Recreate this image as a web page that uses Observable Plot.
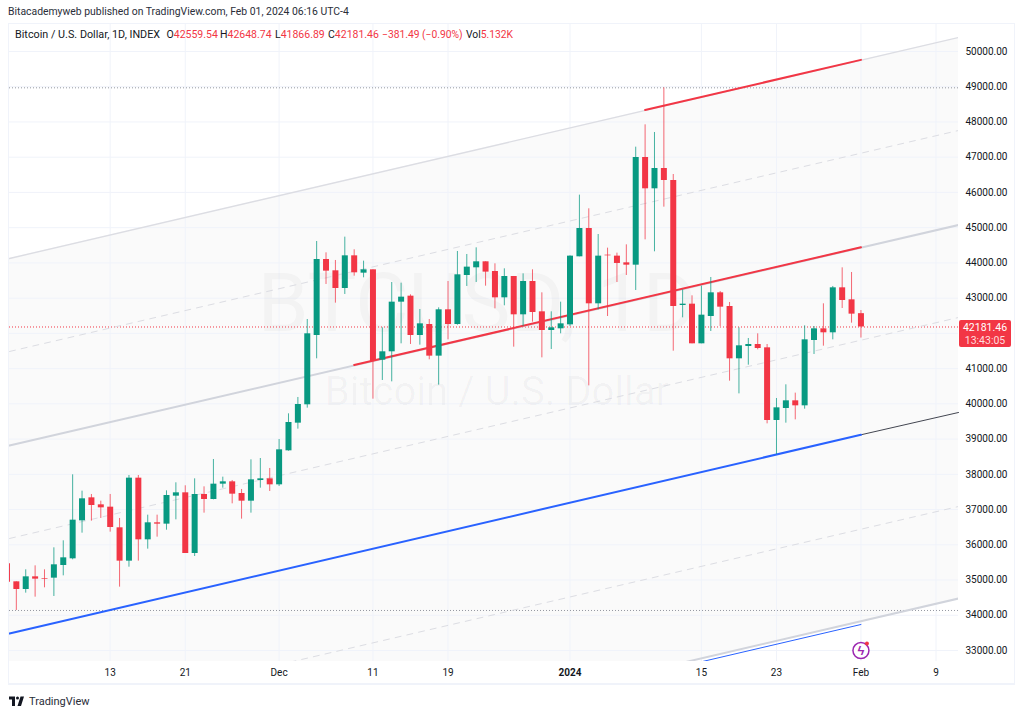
<!DOCTYPE html>
<html><head><meta charset="utf-8">
<script src="https://cdn.jsdelivr.net/npm/d3@7"></script>
<script src="https://cdn.jsdelivr.net/npm/@observablehq/plot@0.6"></script>
<style>
html,body{margin:0;padding:0;background:#fff;width:1024px;height:716px;overflow:hidden;font-family:Roboto,"Liberation Sans",sans-serif;color:#131722}
#title{height:23px;line-height:24px;padding-left:8px;font-size:10.4px;color:#2a2e39;white-space:nowrap}
#chart{position:relative;width:1024px;height:663px}
#chart svg{display:block}
#box{position:absolute;left:8px;top:0;width:1007px;height:662px;border:1px solid #f0f3fa;border-bottom-width:2px;pointer-events:none;box-sizing:border-box}
.lg{position:absolute;top:6px;font-size:10.5px;line-height:12px;white-space:nowrap;color:#131722}
.lg b{font-weight:400;color:#f23645}
#tag{position:absolute;left:959px;width:52px;height:27px;background:#f23645;border-radius:2px;color:#fff;font-size:10.5px;line-height:13px;text-align:center;box-sizing:border-box;padding-top:1px}
#tag span{display:block;color:#fdd}
#foot{height:30px;display:flex;align-items:center;padding-left:8px;gap:3px;font-size:11px;color:#2a2e39}
</style></head><body>
<div id="title">Bitacademyweb published on TradingView.com, Feb 01, 2024 06:16 UTC-4</div>
<div id="chart"></div>
<div id="foot"><svg width="18" height="12" viewBox="0 0 36 24"><path fill="#131722" d="M14 3H2v6h6v13h6V3zm12 19h-7l6-19h7l-6 19zm-7-13a3 3 0 1 0 0-6 3 3 0 0 0 0 6z"/></svg><span>TradingView</span></div>
<script>
const startDay = Date.UTC(2023, 10, 2);
const opens = [35460,34949,34732,35091,35044,35053,35413,35602,36680,37333,37134,37068,36482,35536,37891,36141,36624,36586,37380,37475,35753,37428,37286,37721,37787,37456,37238,37825,37872,37702,38667,39452,39973,41940,44097,43776,43274,44201,43709,43804,41240,41477,42886,43056,41940,42252,41354,42669,42252,43643,43861,44031,43757,43009,43615,42527,43473,42612,42082,42130,42243,44173,44977,42839,44220,44192,44002,43936,46992,46103,46680,46339,42791,42829,41704,42479,43151,42763,41278,41628,41684,41590,39528,39868,40086,39944,41798,42129,42016,43293,42952,42559.54];
const highs = [35500,34950,35290,35403,35290,35914,36113,37986,37522,37428,37238,37428,36747,37967,37967,36841,36841,37532,37759,37674,37872,37645,38421,37920,37825,37570,38411,38449,38166,38989,39717,40181,42394,44608,44286,44069,44731,44372,44050,43804,42158,43444,43425,43094,42678,42394,42725,43473,44324,44239,44428,44031,43974,43832,43615,43690,43804,43151,42612,42886,44200,45923,45535,44806,44419,44277,44513,47285,47919,47701,48969,46509,43236,43066,43340,43586,43189,42877,42158,41855,41987,41684,40152,40540,40304,42214,42195,42839,43331,43860,43728,42648.74];
const lows = [34920,34136,34628,34514,34779,34533,35119,35574,36330,36671,36747,36359,34798,35365,35536,35876,36217,36415,36709,35753,35668,36898,37276,37607,37163,36728,36898,37607,37513,37655,38657,39282,39878,41278,43388,42858,43104,43624,43577,40133,40663,40625,41704,41685,41666,41250,40531,41817,42233,43331,43444,43340,42697,42782,41609,42196,42319,41306,41543,41988,42196,44173,40510,42668,42479,43444,43643,43217,44655,44315,45582,41495,42441,41704,41704,42053,42195,40644,40284,41098,41533,39433,38563,39452,39546,39849,41401,41637,41817,42706,42290,41866.89];
const closes = [34940,34732,35091,35025,35025,35432,35630,36699,37305,37115,37049,36491,35536,37891,36141,36624,36586,37399,37475,35753,37428,37286,37721,37787,37437,37238,37844,37872,37702,38695,39471,39982,41988,44097,43766,43274,44201,43719,43804,41202,41477,42886,43028,41940,42271,41354,42669,42252,43662,43880,44031,43738,43009,43615,42527,43473,42593,42082,42158,42271,44192,44977,42839,44192,44201,43984,43936,46992,46103,46680,46339,42763,42829,41704,42517,43151,42744,41278,41647,41684,41571,39528,39887,40086,39944,41817,42129,42016,43293,42933,42546,42181.46];

// Channel levels, price at chart left edge and right edge
const edgeStart = new Date(Date.UTC(2023, 10, 2, 6, 30));
const edgeEnd = new Date(Date.UTC(2024, 1, 11, 9, 30));
const lastBar = new Date(Date.UTC(2024, 1, 1));
const levelTop = [44126, 50397];
const levelUpperDash = [41486, 47758];
const levelMid = [38818, 45076];
const levelLowerDash = [36179, 42451];
const levelBase = [33483, 39755];
const levelBelowDash = [30815, 37087];
const levelFloor = [28204, 34476];

const priceTicks = [33000,34000,35000,36000,37000,38000,39000,40000,41000,42000,43000,44000,45000,46000,47000,48000,49000,50000];
const priceLabels = priceTicks.filter(p => p !== 42000); // 42000.00 sits under the last-price tag
const tickDates = [[2023,10,13],[2023,10,21],[2023,11,1],[2023,11,11],[2023,11,19],[2024,0,15],[2024,0,23],[2024,1,1],[2024,1,9]].map(a => new Date(Date.UTC(...a)));
const tickNames = ["13","21","Dec","11","19","15","23","Feb","9"];
const yearTick = [new Date(Date.UTC(2024,0,1))];
const highLine = 48969, lowLine = 34136, lastPrice = 42181.46;

const up = "#089981", down = "#f23645", blue = "#2962ff", gray = "#d1d4dc", lightGray = "#dcdde3";
const bars = opens.map((o,i) => ({date:new Date(startDay + i*864e5), o, h:highs[i], l:lows[i], c:closes[i], col: closes[i] >= o ? up : down}));
const seg = (lv) => [{d:edgeStart,p:lv[0]},{d:edgeEnd,p:lv[1]}];
const fillBand = [{d:edgeStart,a:levelTop[0],b:levelFloor[0]},{d:edgeEnd,a:levelTop[1],b:levelFloor[1]}];
const line = (lv,o) => Plot.line(seg(lv),{x:"d",y:"p",clip:"frame",...o});

const redTop = [{d:new Date(Date.UTC(2024,0,9)),p:48337},{d:lastBar,p:49762}];
const redMid = [{d:new Date(Date.UTC(2023,11,9)),p:41100},{d:lastBar,p:44443}];
const blueMain = [{d:edgeStart,p:33483},{d:lastBar,p:39122}];
const blackTail = [{d:lastBar,p:39122},{d:edgeEnd,p:39755}];
const blueLow = [{d:new Date(Date.UTC(2024,0,15)),p:32680},{d:lastBar,p:33738}];

const font = "Roboto, 'Liberation Sans', sans-serif";
const plot = Plot.plot({
  width:1024, height:663, marginLeft:9, marginRight:66, marginTop:1, marginBottom:25,
  style:{background:"transparent", fontFamily:font, overflow:"visible"},
  x:{type:"utc", domain:[edgeStart,edgeEnd]},
  y:{domain:[32688,50766]},
  marks:[
    Plot.areaY(fillBand,{x:"d",y1:"a",y2:"b",fill:"#fafafa",clip:"frame"}),
    Plot.gridX([...tickDates,...yearTick],{stroke:"#f0f3fa",strokeOpacity:1}),
    Plot.gridY(priceTicks,{stroke:"#f0f3fa",strokeOpacity:1}),
    Plot.text(["BTCUSD, 1D"],{x:()=>new Date(Date.UTC(2023,11,22,2)),y:()=>42820,fontSize:82,fill:"#131722",fillOpacity:0.03}),
    Plot.text(["Bitcoin / U.S. Dollar"],{x:()=>new Date(Date.UTC(2023,11,24,5)),y:()=>40322,fontSize:40,fill:"#131722",fillOpacity:0.035}),
    Plot.ruleY([highLine,lowLine],{stroke:"#9598a1",strokeDasharray:"1,2"}),
    Plot.ruleY([lastPrice],{stroke:down,strokeDasharray:"1,2"}),
    line(levelTop,{stroke:lightGray,strokeWidth:1.4}),
    line(levelUpperDash,{stroke:lightGray,strokeWidth:1,strokeDasharray:"6,6"}),
    line(levelMid,{stroke:gray,strokeWidth:2}),
    line(levelLowerDash,{stroke:lightGray,strokeWidth:1,strokeDasharray:"6,6"}),
    line(levelBelowDash,{stroke:lightGray,strokeWidth:1,strokeDasharray:"6,6"}),
    line(levelFloor,{stroke:gray,strokeWidth:2}),
    Plot.line(blueLow,{x:"d",y:"p",stroke:blue,strokeWidth:1,clip:"frame"}),
    Plot.line(blackTail,{x:"d",y:"p",stroke:"#434651",strokeWidth:1}),
    Plot.line(blueMain,{x:"d",y:"p",stroke:blue,strokeWidth:2,clip:"frame"}),
    Plot.line(redTop,{x:"d",y:"p",stroke:down,strokeWidth:2}),
    Plot.line(redMid,{x:"d",y:"p",stroke:down,strokeWidth:2}),
    Plot.ruleX(bars,{x:"date",y1:"l",y2:"h",stroke:"col",strokeWidth:1,strokeOpacity:.75,clip:"frame"}),
    Plot.ruleX(bars,{x:"date",y1:"o",y2:"c",stroke:"col",strokeWidth:6,clip:"frame"}),
    Plot.dot([lastBar],{x:d=>d,y:()=>33000,r:8,fill:"#fff",stroke:"#9c27b0",strokeWidth:1.5}),
    Plot.text(["ϟ"],{x:()=>lastBar,y:()=>33000,fontSize:13,fontWeight:700,fill:"#9c27b0"}),
    Plot.dot([lastBar],{x:d=>d,y:()=>33200,r:2,dx:6,fill:"#f23645"}),
    Plot.axisY(priceLabels,{anchor:"right",tickSize:0,tickPadding:7,tickFormat:d=>d.toFixed(2),fontSize:10,label:null,color:"#131722"}),
    Plot.axisX(tickDates,{anchor:"bottom",tickSize:0,tickPadding:7,tickFormat:(d,i)=>tickNames[i],fontSize:10,label:null,color:"#131722"}),
    Plot.axisX(yearTick,{anchor:"bottom",tickSize:0,tickPadding:7,tickFormat:()=>"2024",fontSize:10,fontWeight:700,label:null,color:"#131722"})
  ]
});
const wrap = document.getElementById("chart");
wrap.appendChild(plot);
const box = document.createElement("div"); box.id="box"; wrap.appendChild(box);
const legend = [
  [7,"Bitcoin / U.S. Dollar, 1D, INDEX",10.8],[158.5,"O<b>42559.54</b>"],[212,"H<b>42648.74</b>"],[267,"L<b>41866.89</b>"],[320,"C<b>42181.46</b>"],[374,"<b>−381.49 (−0.90%)</b>",10.3],[458,"Vol<b>5.132K</b>",10.3]
];
legend.forEach(([l,h,f]) => { const s=document.createElement("div"); s.className="lg"; s.style.left=(l+8)+"px"; if(f) s.style.fontSize=f+"px"; s.innerHTML=h; wrap.appendChild(s); });
const tag = document.createElement("div"); tag.id="tag";
tag.style.top = (plot.scale("y").apply(lastPrice) - 6.5) + "px";
tag.innerHTML = "42181.46<span>13:43:05</span>";
wrap.appendChild(tag);
</script>
</body></html>
